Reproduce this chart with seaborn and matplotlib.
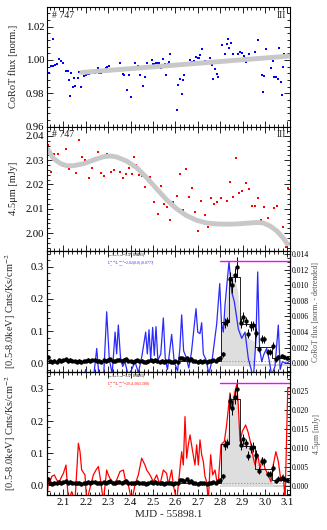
import matplotlib
matplotlib.use("Agg")
import seaborn as sns
import matplotlib.pyplot as plt
from matplotlib.ticker import MultipleLocator, FormatStrFormatter

# ---- panel 1 : CoRoT optical flux ----
corot_x = [2.0256, 2.0375, 2.0449, 2.0524, 2.0554, 2.0643, 2.0732, 2.0807, 2.0896, 2.0985,
           2.1104, 2.1193, 2.1238, 2.1283, 2.1342, 2.1417, 2.1461, 2.1536, 2.1640, 2.1685,
           2.1804, 2.1863, 2.1938, 2.2027, 2.2086, 2.2161, 2.2235, 2.2324, 2.2414, 2.2533,
           2.2592, 2.2667, 2.2741, 2.2830, 2.2890, 2.2964, 2.3024, 2.3083, 2.3202, 2.3277,
           2.3366, 2.3530, 2.3604, 2.3649, 2.3723, 2.3827, 2.3917, 2.4006, 2.4199, 2.4274,
           2.4333, 2.4408, 2.4542, 2.4661, 2.4720, 2.4943, 2.5018, 2.5063, 2.5137, 2.5211,
           2.5256, 2.5345, 2.5405, 2.5464, 2.5524, 2.5583, 2.5658, 2.5717, 2.5777, 2.5866,
           2.6060, 2.6134, 2.6208, 2.6283, 2.6342, 2.6387, 2.6446, 2.6580, 2.6655, 2.6744,
           2.6848, 2.6923, 2.6997, 2.7057, 2.7116, 2.7190, 2.7324, 2.7458, 2.7548, 2.7622,
           2.7696, 2.7771, 2.7845, 2.7890, 2.8083, 2.8202, 2.8292, 2.8351, 2.8411, 2.8470,
           2.8589, 2.8798, 2.8887, 2.8976, 2.9051, 2.9110, 2.9155, 2.9199, 2.9274, 2.9542,
           2.9690, 2.9765, 2.9869, 2.9929, 2.9973, 3.0048, 3.0077, 3.0256, 3.0345, 3.0420,
           3.0494, 3.0568, 3.0643, 3.0717, 3.0762, 3.0821, 3.0866, 3.0970, 3.1060]
corot_y = [1.0023, 0.9920, 0.9964, 0.9964, 1.0127, 0.9971, 0.9977, 1.0007, 0.9994, 0.9979,
           0.9934, 0.9932, 0.9879, 0.9782, 0.9924, 0.9836, 0.9893, 0.9845, 0.9889, 0.9930,
           0.9836, 0.9922, 0.9901, 0.9908, 0.9916, 0.9916, 0.9920, 0.9924, 0.9922, 0.9948,
           0.9918, 0.9924, 0.9928, 0.9936, 0.9948, 0.9960, 0.9964, 0.9938, 0.9944, 0.9934,
           0.9942, 0.9983, 0.9954, 0.9914, 0.9908, 0.9816, 0.9912, 0.9776, 0.9983, 0.9948,
           0.9964, 0.9910, 0.9841, 0.9895, 0.9983, 0.9999, 0.9973, 0.9973, 0.9983, 0.9981,
           0.9983, 0.9948, 0.9964, 1.0003, 0.9973, 0.9912, 0.9977, 0.9987, 1.0036, 0.9967,
           0.9698, 0.9849, 0.9885, 0.9794, 0.9881, 0.9908, 0.9967, 0.9973, 0.9997, 0.9987,
           0.9991, 1.0019, 1.0011, 1.0009, 1.0029, 1.0068, 0.9991, 0.9987, 1.0013, 0.9967,
           0.9885, 0.9944, 0.9914, 0.9895, 1.0088, 1.0038, 1.0096, 1.0125, 1.0072, 1.0101,
           1.0038, 1.0036, 1.0048, 1.0042, 1.0023, 1.0013, 0.9987, 0.9999, 1.0038, 1.0046,
           1.0121, 1.0007, 0.9912, 0.9806, 0.9904, 1.0066, 1.0013, 0.9954, 0.9993, 0.9899,
           0.9895, 0.9885, 1.0070, 0.9865, 0.9786, 0.9960, 1.0038, 1.0031, 1.0038]
corot_trend_x = [2.182, 3.112]
corot_trend_y = [0.9924, 1.0023]

# ---- panel 2 : Spitzer 4.5um ----
irac_x = [2.0300, 2.0435, 2.0598, 2.0747, 2.0851, 2.1000, 2.1119, 2.1268, 2.1417, 2.1565,
          2.1699, 2.1848, 2.1982, 2.2131, 2.2265, 2.2429, 2.2533, 2.2682, 2.2830, 2.2964,
          2.3113, 2.3247, 2.3381, 2.3515, 2.3649, 2.3798, 2.3932, 2.4080, 2.4170, 2.4244,
          2.4378, 2.4512, 2.4646, 2.4780, 2.4884, 2.5063, 2.5211, 2.5360, 2.5479, 2.5613,
          2.5777, 2.5911, 2.6060, 2.6208, 2.6342, 2.6476, 2.6625, 2.6759, 2.6878, 2.7012,
          2.7161, 2.7310, 2.7473, 2.7592, 2.7741, 2.7875, 2.8024, 2.8292, 2.8440, 2.8574,
          2.8708, 2.8857, 2.8976, 2.9140, 2.9274, 2.9408, 2.9542, 2.9690, 2.9839, 2.9973,
          3.0122, 3.0256, 3.0405, 3.0539, 3.0688, 3.0821, 3.0940, 3.1030]
irac_y = [2.0362, 2.0253, 2.0326, 2.0326, 2.0289, 2.0277, 2.0345, 2.0263, 2.0280, 2.0248,
          2.0381, 2.0314, 2.0300, 2.0225, 2.0269, 2.0308, 2.0334, 2.0248, 2.0236, 2.0324,
          2.0250, 2.0259, 2.0311, 2.0253, 2.0225, 2.0244, 2.0269, 2.0244, 2.0313, 2.0280,
          2.0239, 2.0236, 2.0191, 2.0222, 2.0232, 2.0130, 2.0078, 2.0195, 2.0119, 2.0106,
          2.0053, 2.0130, 2.0152, 2.0242, 2.0094, 2.0262, 2.0150, 2.0184, 2.0086, 2.0011,
          2.0132, 2.0075, 2.0026, 2.0145, 2.0120, 2.0130, 2.0146, 2.0132, 2.0212, 2.0150,
          2.0310, 2.0164, 2.0173, 2.0206, 2.0180, 2.0112, 2.0112, 2.0143, 2.0055, 2.0106,
          2.0061, 2.0023, 2.0105, 2.0111, 1.9993, 2.0027, 1.9945, 2.0187]
irac_trend_x = [2.030, 2.0554, 2.0851, 2.1149, 2.1446, 2.1893, 2.2339, 2.2786, 2.3083, 2.3381,
                2.3827, 2.4274, 2.4720, 2.5167, 2.5613, 2.6060, 2.6506, 2.6952, 2.7399, 2.7845,
                2.8292, 2.8738, 2.9185, 2.9631, 2.9929, 3.0226, 3.0524, 3.0821, 3.1000]
irac_trend_y = [2.0345, 2.0307, 2.0287, 2.0277, 2.0277, 2.0285, 2.0300, 2.0314, 2.0317, 2.0313,
                2.0296, 2.0269, 2.0228, 2.0182, 2.0137, 2.0100, 2.0072, 2.0053, 2.0042, 2.0038,
                2.0037, 2.0038, 2.0041, 2.0044, 2.0042, 2.0030, 2.0010, 1.9980, 1.9956]

# ---- panels 3/4 : X-ray light curve [0.5-8.0 keV] ----
xray_x = [2.03, 2.04, 2.05, 2.06, 2.07, 2.08, 2.09, 2.10, 2.11, 2.12, 2.13, 2.14, 2.15, 2.16,
          2.17, 2.18, 2.19, 2.20, 2.21, 2.22, 2.23, 2.24, 2.25, 2.26, 2.27, 2.28, 2.29, 2.30,
          2.31, 2.32, 2.33, 2.34, 2.35, 2.36, 2.37, 2.38, 2.39, 2.40, 2.41, 2.42, 2.43, 2.44,
          2.45, 2.46, 2.47, 2.48, 2.49, 2.50, 2.51, 2.52, 2.53, 2.54, 2.55, 2.56, 2.57, 2.58,
          2.59, 2.60, 2.61, 2.62, 2.63, 2.64, 2.65, 2.66, 2.67, 2.68, 2.69, 2.70, 2.71, 2.72,
          2.73, 2.74, 2.75, 2.76, 2.77, 2.78, 2.79,
          2.800, 2.812, 2.822, 2.832, 2.844, 2.852, 2.867, 2.877, 2.893, 2.904, 2.914, 2.926,
          2.937, 2.948, 2.959, 2.974, 2.985, 2.997, 3.012, 3.023, 3.035, 3.048, 3.060, 3.075,
          3.087, 3.100]
xray_y = [0.019, 0.006, 0.004, 0.008, 0.005, 0.011, 0.006, 0.009, 0.012, 0.007, 0.010, 0.008,
          0.006, 0.005, 0.007, 0.004, 0.006, 0.008, 0.010, 0.007, 0.009, 0.011, 0.006, 0.008,
          0.005, 0.009, 0.007, 0.010, 0.012, 0.008, 0.006, 0.009, 0.011, 0.007, 0.010, 0.013,
          0.008, 0.006, 0.005, 0.007, 0.009, 0.006, 0.008, 0.005, 0.004, 0.006, 0.009, 0.007,
          0.010, 0.006, 0.005, 0.007, 0.004, 0.006, 0.008, 0.005, 0.004, 0.006, 0.005, 0.017,
          0.015, 0.012, 0.018, 0.010, 0.014, 0.008, 0.006, 0.004, 0.007, 0.005, 0.006, 0.004,
          0.006, 0.007, 0.009, 0.008, 0.012,
          0.016, 0.028, 0.126, 0.130, 0.263, 0.242, 0.275, 0.299, 0.126, 0.144, 0.130, 0.092,
          0.116, 0.118, 0.095, 0.045, 0.075, 0.074, 0.035, 0.035, 0.054, 0.012, 0.020, 0.023,
          0.020, 0.016]
xray_err = [0.005] * 77 + [0.006, 0.008, 0.015, 0.015, 0.022, 0.024, 0.022, 0.032, 0.016,
                           0.016, 0.015, 0.014, 0.015, 0.015, 0.014, 0.010, 0.012, 0.012,
                           0.010, 0.010, 0.011, 0.007, 0.007, 0.007, 0.007, 0.007]

block_x = [2.027, 2.805, 2.840, 2.887, 2.955, 3.030, 3.112]
block_y = [0.006, 0.128, 0.268, 0.123, 0.050, 0.016, 0.016]

fill3_x = [2.804, 2.804, 2.812, 2.822, 2.837, 2.852, 2.867, 2.881, 2.889, 2.896, 2.910,
           2.926, 2.940, 2.956, 2.956]
fill3_y = [-0.006, 0.105, 0.115, 0.139, 0.232, 0.284, 0.263, 0.221, 0.150, 0.095, 0.088,
           0.078, 0.072, 0.066, -0.006]
fill4_x = [2.804, 2.804, 2.810, 2.822, 2.837, 2.848, 2.860, 2.875, 2.885, 2.889, 2.900,
           2.915, 2.930, 2.945, 2.960, 2.980, 3.000, 3.020, 3.037, 3.037]
fill4_y = [-0.006, 0.120, 0.125, 0.135, 0.160, 0.250, 0.300, 0.300, 0.220, 0.150, 0.145,
           0.130, 0.115, 0.100, 0.085, 0.065, 0.045, 0.025, 0.012, -0.006]
quiet_x = [2.800, 3.112]
quiet_lo = [-0.007, -0.007]
quiet_hi = [-0.001, -0.001]
quiet_level = [0.007, 0.007]
peak_x = [2.800, 3.112]
peak_y = [0.318, 0.318]

# CoRoT detrended (right axis of panel 3)
blue_x = [2.030, 2.060, 2.090, 2.120, 2.150, 2.180, 2.200, 2.210, 2.235, 2.249, 2.260, 2.280,
          2.2935, 2.305, 2.318, 2.331, 2.338, 2.3455, 2.355, 2.365, 2.375, 2.390, 2.405,
          2.420, 2.435, 2.450, 2.4676, 2.475, 2.4824, 2.490, 2.4988, 2.506, 2.5137, 2.522,
          2.535, 2.5464, 2.555, 2.565, 2.5836, 2.595, 2.610, 2.620, 2.6283, 2.637, 2.648,
          2.660, 2.672, 2.6923, 2.700, 2.7101, 2.7176, 2.725, 2.738, 2.750, 2.765, 2.7845,
          2.7982, 2.806, 2.8143, 2.822, 2.8397, 2.8518, 2.8634, 2.8813, 2.8964, 2.9112,
          2.9259, 2.9370, 2.9482, 2.9600, 2.9678, 2.9760, 2.9857, 2.9960, 3.0080, 3.0190,
          3.0300, 3.0450, 3.0598, 3.0680, 3.0777, 3.0870, 3.0970, 3.1100]
blue_y = [-0.0025, -0.0030, -0.0022, -0.0032, -0.0026, -0.0030, -0.0008, -0.0022, -0.0018,
          0.0019, -0.0020, -0.0016, 0.0066, 0.0006, -0.0014, 0.0040, 0.0012, 0.0049, 0.0008,
          -0.0004, 0.0002, -0.0016, -0.0008, 0.0002, -0.0012, 0.0008, 0.0040, 0.0012, 0.0043,
          0.0005, 0.0046, 0.0010, 0.0047, 0.0004, 0.0012, 0.0058, 0.0006, -0.0008, 0.0037,
          0.0002, -0.0010, 0.0018, 0.0062, 0.0016, 0.0008, -0.0006, 0.0014, 0.0070, 0.0040,
          0.0038, 0.0052, 0.0012, 0.0004, -0.0014, 0.0006, 0.0050, 0.0102, 0.0052, 0.0040,
          0.0075, 0.0130, 0.0091, 0.0079, 0.0044, 0.0032, 0.0040, 0.0006, -0.0006, -0.0020,
          0.0030, 0.0117, 0.0020, 0.0002, 0.0012, 0.0019, 0.0004, -0.0015, -0.0004, 0.0049,
          -0.0008, 0.0002, 0.0001, 0.0000, 0.0003]

# 4.5um (right axis of panel 4)
red_x = [2.0256, 2.033, 2.0405, 2.048, 2.0598, 2.0702, 2.0821, 2.0926, 2.100, 2.1119, 2.1223,
         2.1372, 2.152, 2.167, 2.1744, 2.1818, 2.1967, 2.2042, 2.2339, 2.2458, 2.2563, 2.2637,
         2.2786, 2.2935, 2.3009, 2.3083, 2.3232, 2.3381, 2.3530, 2.3679, 2.3798, 2.3902,
         2.4051, 2.4199, 2.4348, 2.4497, 2.4646, 2.4720, 2.4869, 2.5018, 2.5167, 2.5315,
         2.5464, 2.5613, 2.5688, 2.5836, 2.5911, 2.6060, 2.6283, 2.6357, 2.6432, 2.6506,
         2.6580, 2.6655, 2.6774, 2.6878, 2.6952, 2.7027, 2.7101, 2.7176, 2.7250, 2.7324,
         2.7399, 2.7473, 2.7577, 2.7667, 2.7771, 2.7845, 2.7920, 2.804, 2.819, 2.829, 2.844,
         2.855, 2.864, 2.874, 2.881, 2.889, 2.899, 2.914, 2.926, 2.938, 2.948, 2.956, 2.968,
         2.978, 2.989, 3.000, 3.015, 3.027, 3.037, 3.049, 3.060, 3.072, 3.082, 3.090, 3.102,
         3.110]
red_y = [-0.0040, 0.0011, 0.0011, 0.0025, 0.0029, 0.0016, 0.0011, 0.0025, 0.0033, 0.0055,
         -0.0040, -0.0015, -0.0040, 0.0112, 0.0090, 0.0042, 0.0029, -0.0040, 0.0029, 0.0042,
         0.0051, 0.0025, -0.0040, 0.0042, 0.0029, 0.0020, 0.0003, 0.0016, 0.0038, 0.0042,
         0.0007, 0.0003, -0.0040, 0.0003, 0.0029, 0.0073, 0.0055, 0.0042, 0.0029, 0.0011,
         0.0029, 0.0003, 0.0042, 0.0033, 0.0003, 0.0042, 0.0003, -0.0040, 0.0090, 0.0055,
         0.0182, 0.0073, 0.0108, 0.0134, 0.0090, 0.0055, 0.0108, 0.0055, 0.0121, 0.0082,
         0.0064, 0.0025, 0.0011, -0.0040, 0.0082, 0.0029, 0.0042, 0.0016, 0.0011, 0.0108,
         0.0117, 0.0160, 0.0244, 0.0196, 0.0239, 0.0266, 0.0213, 0.0117, 0.0143, 0.0160,
         0.0139, 0.0108, 0.0074, 0.0055, 0.0082, 0.0046, 0.0074, 0.0046, 0.0029, 0.0011,
         0.0055, 0.0090, 0.0064, 0.0011, 0.0029, -0.0040, 0.0257, 0.0257]

sns.set_style("ticks")
plt.rcParams['font.family'] = ['Liberation Serif', 'DejaVu Serif']
plt.rcParams['mathtext.fontset'] = 'stix'

fig = plt.figure(figsize=(3.27, 5.30), dpi=100)


def pos(top, bot):
    return [47 / 327, 1 - bot / 530, 243 / 327, (bot - top) / 530]


ax1 = fig.add_axes(pos(7, 126.5))
ax2 = fig.add_axes(pos(126.5, 251), sharex=ax1)
ax3 = fig.add_axes(pos(251, 372), sharex=ax1)
ax4 = fig.add_axes(pos(372, 495), sharex=ax1)


def style(ax, right=True, labelsize=7.7):
    ax.tick_params(which='both', direction='in', top=True, right=right,
                   labelsize=labelsize, width=0.6, pad=2, colors='black')
    ax.tick_params(which='major', length=4)
    ax.tick_params(which='minor', length=2)
    for sp in ax.spines.values():
        sp.set_linewidth(0.8)
        sp.set_color('black')


# panel 1
sns.lineplot(x=corot_trend_x, y=corot_trend_y, ax=ax1, color='#c8c8c8', lw=3.5)
sns.scatterplot(x=corot_x, y=corot_y, ax=ax1, marker='s', s=4, color='blue', linewidth=0)
ax1.set_ylim(0.960, 1.0317)
ax1.yaxis.set_major_locator(MultipleLocator(0.02))
ax1.yaxis.set_minor_locator(MultipleLocator(0.004))
ax1.yaxis.set_major_formatter(FormatStrFormatter('%.2f'))
ax1.set_ylabel("CoRoT flux [norm.]", fontsize=7.5)

# panel 2
sns.lineplot(x=irac_trend_x, y=irac_trend_y, ax=ax2, color='#c8c8c8', lw=3.5)
sns.scatterplot(x=irac_x, y=irac_y, ax=ax2, marker='s', s=4, color='red', linewidth=0)
ax2.set_ylim(1.9927, 2.0438)
ax2.yaxis.set_major_locator(MultipleLocator(0.01))
ax2.yaxis.set_minor_locator(MultipleLocator(0.002))
ax2.yaxis.set_major_formatter(FormatStrFormatter('%.2f'))
ax2.set_ylabel("4.5μm [mJy]", fontsize=7.5)

for ax in (ax1, ax2):
    ax.text(0.02, 0.97, "# 747", transform=ax.transAxes, fontsize=7, va='top', ha='left')
    ax.text(0.985, 0.97, "III", transform=ax.transAxes, fontsize=7, va='top', ha='right')
    style(ax)


def xray_panel(ax, fx, fy, line_x, line_y, line_color, ylim, rlim, rmaj, rmin, rlabel,
               rlabel_x, texts):
    ax.set_zorder(1)
    ax.fill_between(quiet_x, quiet_lo, quiet_hi, color='#d2d2d2', lw=0)
    ax.fill(fx, fy, color='#dedede', lw=0)
    sns.lineplot(x=quiet_x, y=quiet_level, ax=ax, color='#999999', lw=0.8, linestyle=':')
    ax.set_ylim(*ylim)
    ax.yaxis.set_major_locator(MultipleLocator(0.1))
    ax.yaxis.set_minor_locator(MultipleLocator(0.02))
    ax.yaxis.set_major_formatter(FormatStrFormatter('%.1f'))
    ax.set_ylabel("[0.5-8.0keV] Cnts/Ks/cm$^{-2}$", fontsize=7.5)
    style(ax, right=False)

    tw = ax.twinx()
    tw.set_zorder(2)
    tw.patch.set_visible(False)
    sns.lineplot(x=line_x, y=line_y, ax=tw, color=line_color, lw=0.9,
                 sort=False, estimator=None)
    tw.set_ylim(*rlim)
    tw.yaxis.set_major_locator(MultipleLocator(rmaj))
    tw.yaxis.set_minor_locator(MultipleLocator(rmin))
    tw.yaxis.set_major_formatter(FormatStrFormatter('%.3f'))
    style(tw, right=True, labelsize=5.6)
    tw.tick_params(which='both', left=False, top=False, bottom=False, pad=1.5)
    tw.set_ylabel(rlabel, fontsize=5.6, color='#555555')
    tw.yaxis.set_label_coords(rlabel_x, 0.5)

    ov = fig.add_axes(ax.get_position(), sharex=ax, sharey=ax)
    ov.set_zorder(3)
    ov.patch.set_visible(False)
    ov.axis('off')
    sns.lineplot(x=block_x, y=block_y, ax=ov, color='black', lw=0.6,
                 drawstyle='steps-post', sort=False, estimator=None)
    ov.errorbar(xray_x, xray_y, yerr=xray_err, fmt='none', ecolor='black', elinewidth=0.7)
    sns.scatterplot(x=xray_x, y=xray_y, ax=ov, color='black', s=10, linewidth=0)
    sns.lineplot(x=peak_x, y=peak_y, ax=ov, color='#ff00ff', lw=1.0)
    for (ty, txt, c) in texts:
        ov.text(0.247, ty, txt, transform=ax.transAxes, fontsize=2.8, color=c, va='center')
    return tw


tw3 = xray_panel(ax3, fill3_x, fill3_y, blue_x, blue_y, '#2a2aff', (-0.027, 0.349),
                 (-0.00111, 0.01438), 0.002, 0.0005, "CoRoT flux [norm. - detrended]", 1.089,
                 [(0.958, r"L$_X$/L$_{bol,IR}$=1.57(0.0491)", 'black'),
                  (0.895, r"L$_X^{peak}$/L$_{opt}^{peak}$=2.02(0.0)(0.0777)", '#2a2aff')])
tw4 = xray_panel(ax4, fill4_x, fill4_y, red_x, red_y, 'red', (-0.031, 0.353),
                 (-0.00236, 0.0299), 0.005, 0.001, "4.5μm [mJy]", 1.095,
                 [(0.958, r"L$_X$/L$_{bol,IR}$=1.57(0.0491)", 'black'),
                  (0.895, r"L$_X^{peak}$/L$_{IR}^{peak}$=29.4.30(3.580)", 'red')])

for ax in (ax1, ax2, ax3, ax4):
    ax.set_xlim(2.027, 3.112)
    ax.xaxis.set_major_locator(MultipleLocator(0.1))
    ax.xaxis.set_minor_locator(MultipleLocator(0.02))
    ax.xaxis.set_major_formatter(FormatStrFormatter('%.1f'))
    ax.yaxis.set_label_coords(-0.118, 0.5)
for ax in (ax1, ax2, ax3):
    ax.tick_params(labelbottom=False)
ax4.set_xlabel("MJD - 55898.1", fontsize=8, labelpad=2)

fig.savefig("out.png", dpi=100)
